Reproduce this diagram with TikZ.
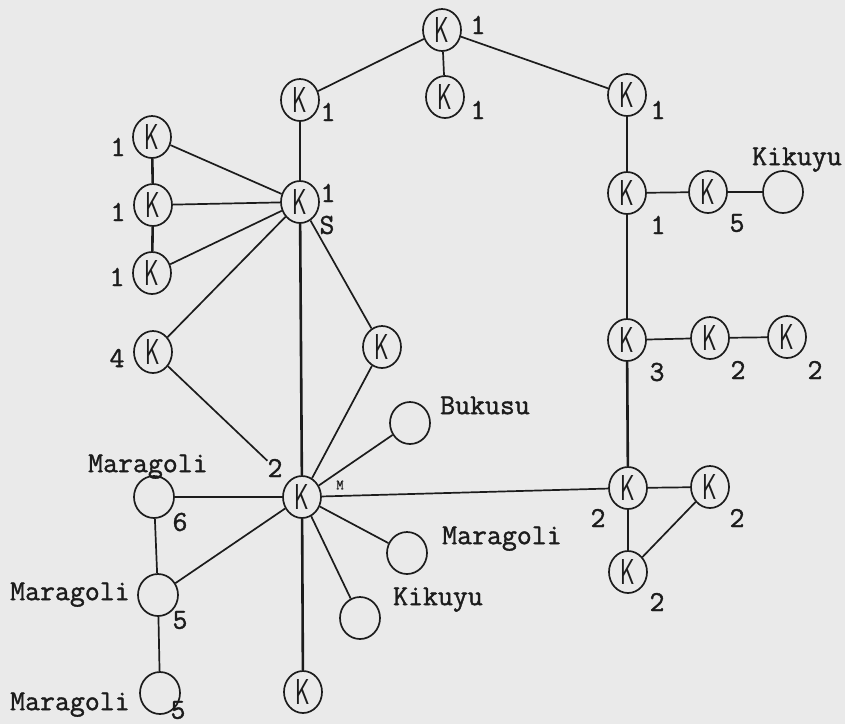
\documentclass[tikz,border=0pt]{standalone}
\usepackage{fontspec}
\newfontfamily\twfont{Latin Modern Mono}[FakeBold=1.3]
\usetikzlibrary{shapes.geometric}
\definecolor{paper}{RGB}{234,234,234}
\definecolor{ink}{RGB}{28,28,28}
\newcommand\kglyph{\scalebox{0.62}[1]{\fontsize{36}{36}\selectfont\sffamily K}}
\begin{document}
\begin{tikzpicture}[x=1pt,y=-1pt,
  kn/.style={ellipse,draw=ink,line width=1.7pt,minimum width=38pt,minimum height=42pt,inner sep=0pt,text=ink},
  en/.style={ellipse,draw=ink,line width=1.7pt,minimum width=40pt,minimum height=42pt,inner sep=0pt},
  lab/.style={font=\fontsize{29}{29}\selectfont\twfont,inner sep=0pt,text=ink},
  txt/.style={lab,anchor=mid west},
  tiny/.style={font=\fontsize{14}{14}\selectfont\twfont,inner sep=0pt,text=ink},
  edge/.style={draw=ink,line width=1.7pt},
  thick edge/.style={draw=ink,line width=2.6pt}]
\fill[paper] (0,0) rectangle (845,724);
\useasboundingbox (0,0) rectangle (845,724);

% K nodes
\node[kn] (top) at (442,30) {\kglyph};
\node[kn] (ka) at (300,100) {\kglyph};
\node[kn] (kb) at (445,97) {\kglyph};
\node[kn] (kc) at (627,95) {\kglyph};
\node[kn] (l1) at (152,137) {\kglyph};
\node[kn] (l2) at (153,205) {\kglyph};
\node[kn] (l3) at (152,273) {\kglyph};
\node[kn] (l4) at (153,352) {\kglyph};
\node[kn] (s) at (300,202) {\kglyph};
\node[kn] (kr) at (382,347) {\kglyph};
\node[kn] (kd) at (627,193) {\kglyph};
\node[kn] (ke) at (708,192) {\kglyph};
\node[kn] (ki) at (627,340) {\kglyph};
\node[kn] (kj) at (710,338) {\kglyph};
\node[kn] (kk) at (787,337) {\kglyph};
\node[kn] (m) at (302,497) {\kglyph};
\node[kn] (kf) at (628,488) {\kglyph};
\node[kn] (kg) at (710,487) {\kglyph};
\node[kn] (kh) at (628,572) {\kglyph};
\node[kn] (kb2) at (303,692) {\kglyph};

% empty nodes
\node[en] (kik1) at (783,192) {};
\node[en] (buk) at (410,423) {};
\node[en] (marr) at (407,553) {};
\node[en] (kik2) at (360,618) {};
\node[en] (mar6) at (154,497) {};
\node[en] (mar5) at (158,595) {};
\node[en] (marb) at (160,693) {};

% labels
\node[lab] (ltop) at (478,25) {1};
\node[lab] (lka) at (328,112) {1};
\node[lab] (lkb) at (478,110) {1};
\node[lab] (lkc) at (658,110) {1};
\node[lab] (ll1) at (118,147) {1};
\node[lab] (ll2) at (118,212) {1};
\node[lab] (ll3) at (117,277) {1};
\node[lab] (ll4) at (117,358) {4};
\node[lab] (ls1) at (328,193) {1};
\node[lab] (lss) at (327,225) {S};
\node[lab] (lkd) at (658,225) {1};
\node[lab] (lke) at (737,223) {5};
\node[txt] (tkik1) at (752,163) {Kikuyu};
\node[lab] (lki) at (657,372) {3};
\node[lab] (lkj) at (738,370) {2};
\node[lab] (lkk) at (815,370) {2};
\node[txt] (tbuk) at (440,412) {Bukusu};
\node[lab] (lm2) at (275,468) {2};
\node[tiny] (lmm) at (340,485) {M};
\node[txt] (tmar6) at (88,470) {Maragoli};
\node[lab] (l6) at (180,522) {6};
\node[txt] (tmar5) at (10,598) {Maragoli};
\node[lab] (l5) at (180,620) {5};
\node[txt] (tmarb) at (10,708) {Maragoli};
\node[lab] (l5b) at (178,710) {5};
\node[txt] (tmarr) at (442,542) {Maragoli};
\node[txt] (tkik2) at (393,603) {Kikuyu};
\node[lab] (lkf) at (598,518) {2};
\node[lab] (lkg) at (737,518) {2};
\node[lab] (lkh) at (657,602) {2};

% connectors
\draw[edge] (top) -- (ka);
\draw[edge] (top) -- (kb);
\draw[edge] (top) -- (kc);
\draw[edge] (ka) -- (s);
\draw[edge] (kc) -- (kd);
\draw[edge] (kd) -- (ke);
\draw[edge] (ke) -- (kik1);
\draw[edge] (kd) -- (ki);
\draw[thick edge] (ki) -- (kf);
\draw[edge] (ki) -- (kj);
\draw[edge] (kj) -- (kk);
\draw[thick edge] (l1) -- (l2);
\draw[thick edge] (l2) -- (l3);
\draw[edge] (l1) -- (s);
\draw[edge] (l2) -- (s);
\draw[edge] (l3) -- (s);
\draw[edge] (l4) -- (s);
\draw[thick edge] (s) -- (m);
\draw[edge] (s) -- (kr);
\draw[edge] (kr) -- (m);
\draw[edge] (l4) -- (lm2);
\draw[edge] (m) -- (buk);
\draw[edge] (m) -- (kf);
\draw[edge] (m) -- (marr);
\draw[edge] (m) -- (kik2);
\draw[thick edge] (m) -- (kb2);
\draw[edge] (m) -- (mar6);
\draw[edge] (m) -- (mar5);
\draw[edge] (mar6) -- (mar5);
\draw[edge] (mar5) -- (marb);
\draw[edge] (kf) -- (kg);
\draw[edge] (kf) -- (kh);
\draw[edge] (kg) -- (kh);
\end{tikzpicture}
\end{document}
